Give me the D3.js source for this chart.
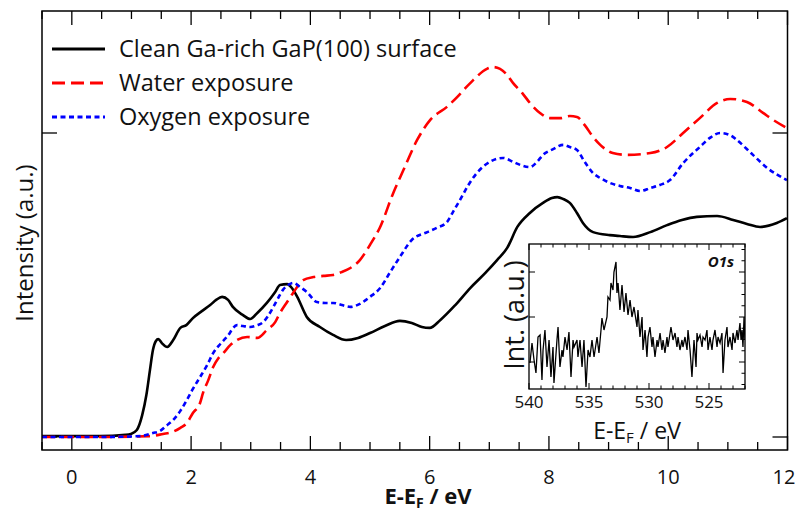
<!DOCTYPE html>
<html>
<head>
<meta charset="utf-8">
<script src="https://cdn.jsdelivr.net/npm/d3@7"></script>
<style>
  body { margin: 0; background: #fff; }
  text { font-family: "Open Sans", "Noto Sans", sans-serif; fill: #111; }
</style>
</head>
<body>
<svg id="chart" width="797" height="515"></svg>
<script>
// main spectra: energy (eV) and normalised intensity
var cleanE = [-0.5,0.47,0.9,0.99,1.09,1.18,1.25,1.31,1.36,1.41,1.45,1.51,1.6,1.7,1.82,1.92,2.03,2.18,2.32,2.42,2.52,2.62,2.7,2.87,2.99,3.11,3.27,3.41,3.49,3.61,3.69,3.78,3.94,4.16,4.38,4.6,4.8,5.0,5.25,5.5,5.7,5.87,6.0,6.18,6.43,6.68,6.93,7.13,7.3,7.47,7.68,7.9,8.05,8.14,8.24,8.35,8.47,8.57,8.74,9.02,9.19,9.41,9.7,9.98,10.23,10.48,10.82,11.09,11.32,11.54,11.82,11.99];
var cleanI = [0.003,0.003,0.007,0.010,0.023,0.072,0.138,0.220,0.286,0.316,0.322,0.309,0.296,0.319,0.359,0.368,0.391,0.414,0.434,0.451,0.461,0.451,0.428,0.401,0.388,0.408,0.441,0.477,0.500,0.503,0.490,0.461,0.395,0.362,0.336,0.319,0.326,0.342,0.365,0.382,0.375,0.362,0.359,0.385,0.434,0.490,0.539,0.582,0.622,0.691,0.737,0.770,0.786,0.789,0.783,0.770,0.737,0.704,0.674,0.664,0.661,0.658,0.674,0.697,0.714,0.724,0.727,0.714,0.701,0.691,0.704,0.720];

var waterE = [-0.5,0.47,1.31,1.53,1.68,1.82,1.93,2.03,2.15,2.2,2.29,2.37,2.46,2.54,2.66,2.77,2.94,3.11,3.27,3.41,3.49,3.61,3.71,3.88,4.05,4.22,4.38,4.53,4.67,4.83,5.0,5.17,5.39,5.56,5.79,6.01,6.29,6.46,6.6,6.73,6.96,7.06,7.18,7.3,7.4,7.55,7.68,7.85,8.02,8.19,8.35,8.47,8.6,8.74,8.86,8.97,9.07,9.31,9.7,9.98,10.25,10.53,10.82,11.04,11.32,11.59,11.76,11.99];
var waterI = [0,0,0.003,0.010,0.016,0.030,0.046,0.079,0.112,0.145,0.188,0.230,0.260,0.276,0.303,0.319,0.329,0.326,0.352,0.378,0.408,0.444,0.474,0.516,0.526,0.530,0.533,0.543,0.556,0.582,0.632,0.691,0.803,0.878,0.977,1.043,1.086,1.118,1.148,1.174,1.211,1.217,1.211,1.191,1.164,1.132,1.099,1.066,1.049,1.049,1.056,1.053,1.026,0.987,0.961,0.944,0.934,0.928,0.934,0.954,1.000,1.049,1.099,1.112,1.102,1.066,1.043,1.016];

var oxyE = [-0.5,0.47,1.15,1.36,1.48,1.58,1.7,1.82,1.93,2.03,2.15,2.27,2.37,2.49,2.6,2.77,2.87,2.99,3.11,3.21,3.29,3.38,3.46,3.54,3.63,3.71,3.83,3.94,4.11,4.25,4.38,4.53,4.67,4.83,5.0,5.17,5.34,5.5,5.7,5.96,6.12,6.29,6.39,6.51,6.64,6.79,7.01,7.23,7.4,7.52,7.68,7.8,7.9,8.07,8.24,8.35,8.47,8.6,8.74,8.86,9.02,9.19,9.36,9.53,9.7,9.86,10.03,10.25,10.53,10.7,10.87,11.04,11.15,11.42,11.66,11.99];
var oxyI = [0,0,0.003,0.013,0.020,0.036,0.056,0.086,0.122,0.158,0.197,0.237,0.276,0.306,0.329,0.368,0.365,0.362,0.368,0.378,0.398,0.428,0.457,0.484,0.500,0.507,0.493,0.477,0.444,0.441,0.441,0.434,0.428,0.438,0.461,0.490,0.543,0.592,0.648,0.674,0.688,0.707,0.740,0.780,0.826,0.868,0.905,0.918,0.905,0.895,0.888,0.905,0.928,0.947,0.961,0.954,0.944,0.905,0.868,0.852,0.836,0.826,0.819,0.809,0.819,0.829,0.845,0.901,0.954,0.984,1.000,0.993,0.977,0.928,0.885,0.845];

// inset O1s: binding energy (eV) and counts (a.u.)
var o1sBE = [539.92,539.75,539.58,539.42,539.25,539.08,538.92,538.83,538.67,538.5,538.33,538.17,538.0,537.92,537.67,537.58,537.42,537.25,537.17,537.0,536.83,536.67,536.5,536.33,536.25,536.0,535.92,535.75,535.58,535.42,535.25,535.08,534.92,534.75,534.58,534.33,534.17,534.0,533.92,533.75,533.5,533.42,533.25,533.17,533.0,532.92,532.75,532.67,532.58,532.42,532.25,532.08,531.92,531.75,531.58,531.42,531.25,
  531.0,530.92,530.75,530.58,530.5,530.33,530.17,530.08,529.92,529.75,529.67,529.5,529.33,529.25,529.08,528.92,528.83,528.67,528.5,528.42,528.17,528.0,527.83,527.67,527.58,527.42,527.25,527.17,527.0,526.83,526.75,526.58,526.42,526.25,526.08,526.0,525.92,525.75,525.58,525.5,525.33,525.17,525.08,524.92,524.75,524.67,524.5,524.33,524.25,524.08,523.92,523.83,523.67,523.5,523.42,523.25,523.08,523.0,522.83,522.67,522.58,522.42,522.33,522.25,522.17,522.08,522.0];
var o1sI = [26,46,29,16,52,54,9,39,59,22,49,12,42,6,49,62,22,39,32,52,39,57,12,49,42,49,32,49,22,49,2,39,32,49,32,52,36,59,71,59,72,92,89,106,99,117,127,96,106,79,104,77,96,74,89,72,82,
  62,79,52,72,39,59,32,52,62,42,52,32,49,42,56,39,49,36,52,42,62,49,56,42,52,39,49,42,52,39,59,39,12,49,22,56,49,54,42,52,49,59,39,52,39,49,59,42,52,46,56,16,49,62,42,52,39,56,46,59,49,66,49,59,42,72,49];

var seriesNames = ["Clean Ga-rich GaP(100) surface", "Water exposure", "Oxygen exposure"];
var seriesColors = ["#000000", "#ff0000", "#0000ff"];
var seriesDash = [null, "13,6", "5,3.5"];

var xMajor = [0, 2, 4, 6, 8, 10, 12];
var xMinor = d3.range(-0.5, 12.01, 0.5);
var yMajor = [0, 1];
var insetXLabels = [540, 535, 530, 525];

var svg = d3.select("#chart");

// main frame
var x = d3.scaleLinear().domain([-0.5, 12]).range([42, 787.5]);
var y = d3.scaleLinear().domain([0, 1]).range([437, 133]);
var pTop = 11, pBottom = 450, pLeft = 42, pRight = 787.5;

var defs = svg.append("defs");
defs.append("clipPath").attr("id", "clipMain")
   .append("rect").attr("x", pLeft).attr("y", pTop).attr("width", pRight - pLeft).attr("height", pBottom - pTop);

var g = svg.append("g");

// ticks (inside) on all four sides
var tickG = g.append("g").attr("stroke", "#000").attr("stroke-width", 1.3);
xMinor.forEach(function(v) {
    var major = xMajor.indexOf(v) >= 0;
    var len = major ? 14 : 8;
    tickG.append("line").attr("x1", x(v)).attr("x2", x(v)).attr("y1", pBottom).attr("y2", pBottom - len);
    tickG.append("line").attr("x1", x(v)).attr("x2", x(v)).attr("y1", pTop).attr("y2", pTop + len);
});
yMajor.forEach(function(v) {
    tickG.append("line").attr("x1", pLeft).attr("x2", pLeft + 15).attr("y1", y(v)).attr("y2", y(v));
    tickG.append("line").attr("x1", pRight).attr("x2", pRight - 15).attr("y1", y(v)).attr("y2", y(v));
});

// curves
var line = d3.line()
    .x(function(d) { return x(d[0]); })
    .y(function(d) { return y(d[1]); })
    .curve(d3.curveMonotoneX);

var series = [
    d3.zip(cleanE, cleanI),
    d3.zip(waterE, waterI),
    d3.zip(oxyE, oxyI)
];
var curves = g.append("g").attr("clip-path", "url(#clipMain)");
series.forEach(function(s, i) {
    curves.append("path")
        .datum(s)
        .attr("fill", "none")
        .attr("stroke", seriesColors[i])
        .attr("stroke-width", 2.6)
        .attr("stroke-dasharray", seriesDash[i])
        .attr("d", line);
});

g.append("rect").attr("x", pLeft).attr("y", pTop).attr("width", pRight - pLeft).attr("height", pBottom - pTop)
   .attr("fill", "none").attr("stroke", "#000").attr("stroke-width", 1.5);

// tick labels (last one kept inside the page)
xMajor.forEach(function(v) {
    g.append("text")
        .attr("x", Math.min(x(v), 784)).attr("y", 484)
        .attr("text-anchor", "middle")
        .style("font-size", "20px")
        .text(v);
});

// axis titles
var xt = g.append("text").attr("x", 428).attr("y", 504).attr("text-anchor", "middle")
    .style("font-weight", "bold").style("font-size", "22px");
xt.append("tspan").text("E-E");
xt.append("tspan").attr("dy", 4).style("font-size", "14px").text("F");
xt.append("tspan").attr("dy", -4).text(" / eV");

g.append("text")
    .attr("transform", "translate(33,243) rotate(-90)")
    .attr("text-anchor", "middle")
    .style("font-size", "24px").style("font-weight", 500)
    .text("Intensity (a.u.)");

// legend
var legendY = [49, 83, 117];
seriesNames.forEach(function(n, i) {
    g.append("line")
        .attr("x1", 52).attr("x2", 105).attr("y1", legendY[i]).attr("y2", legendY[i])
        .attr("stroke", seriesColors[i]).attr("stroke-width", 3)
        .attr("stroke-dasharray", seriesDash[i]);
    g.append("text").attr("x", 119).attr("y", legendY[i] + 8)
        .style("font-size", "23.5px")
        .text(n);
});

// ---- inset O1s ----
var iLeft = 529, iRight = 745, iTop = 244, iBottom = 389;
var ix = d3.scaleLinear().domain([540, 522]).range([iLeft, iRight]);
var iy = d3.scaleLinear().domain([0, 145]).range([iBottom, iTop]);

var ig = svg.append("g");
ig.append("rect").attr("x", iLeft).attr("y", iTop).attr("width", iRight - iLeft).attr("height", iBottom - iTop)
    .attr("fill", "#fff");
defs.append("clipPath").attr("id", "clipInset")
   .append("rect").attr("x", iLeft).attr("y", iTop).attr("width", iRight - iLeft).attr("height", iBottom - iTop);

var iTicks = ig.append("g").attr("stroke", "#000").attr("stroke-width", 1);
d3.range(522, 541, 1).forEach(function(v) {
    var px = ix(v);
    var len = v % 5 === 0 ? 6 : 3.5;
    iTicks.append("line").attr("x1", px).attr("x2", px).attr("y1", iBottom).attr("y2", iBottom - len);
    iTicks.append("line").attr("x1", px).attr("x2", px).attr("y1", iTop).attr("y2", iTop + len);
});
d3.range(4.5, 145, 11.25).forEach(function(v, i) {
    var major = (i % 4) === 2;
    iTicks.append("line").attr("x1", iRight).attr("x2", iRight - (major ? 6 : 3.5)).attr("y1", iy(v)).attr("y2", iy(v));
    if (major) iTicks.append("line").attr("x1", iLeft).attr("x2", iLeft + 6).attr("y1", iy(v)).attr("y2", iy(v));
});

var iline = d3.line()
    .x(function(d) { return ix(d[0]); })
    .y(function(d) { return iy(d[1]); });
ig.append("path")
    .datum(d3.zip(o1sBE, o1sI))
    .attr("clip-path", "url(#clipInset)")
    .attr("fill", "none").attr("stroke", "#000").attr("stroke-width", 1.3)
    .attr("d", iline);

ig.append("rect").attr("x", iLeft).attr("y", iTop).attr("width", iRight - iLeft).attr("height", iBottom - iTop)
    .attr("fill", "none").attr("stroke", "#000").attr("stroke-width", 1.3);

insetXLabels.forEach(function(v) {
    ig.append("text").attr("x", ix(v)).attr("y", 408).attr("text-anchor", "middle")
        .style("font-size", "17px").text(v);
});
var ixt = ig.append("text").attr("x", 637).attr("y", 439).attr("text-anchor", "middle")
    .style("font-size", "23px");
ixt.append("tspan").text("E-E");
ixt.append("tspan").attr("dy", 4).style("font-size", "15px").text("F");
ixt.append("tspan").attr("dy", -4).text(" / eV");

ig.append("text").attr("transform", "translate(524,315) rotate(-90)").attr("text-anchor", "middle")
    .style("font-size", "27px").text("Int. (a.u.)");

ig.append("text").attr("x", 734).attr("y", 267).attr("text-anchor", "end")
    .style("font-size", "15px").style("font-weight", "bold").style("font-style", "italic")
    .text("O1s");
</script>
</body>
</html>
